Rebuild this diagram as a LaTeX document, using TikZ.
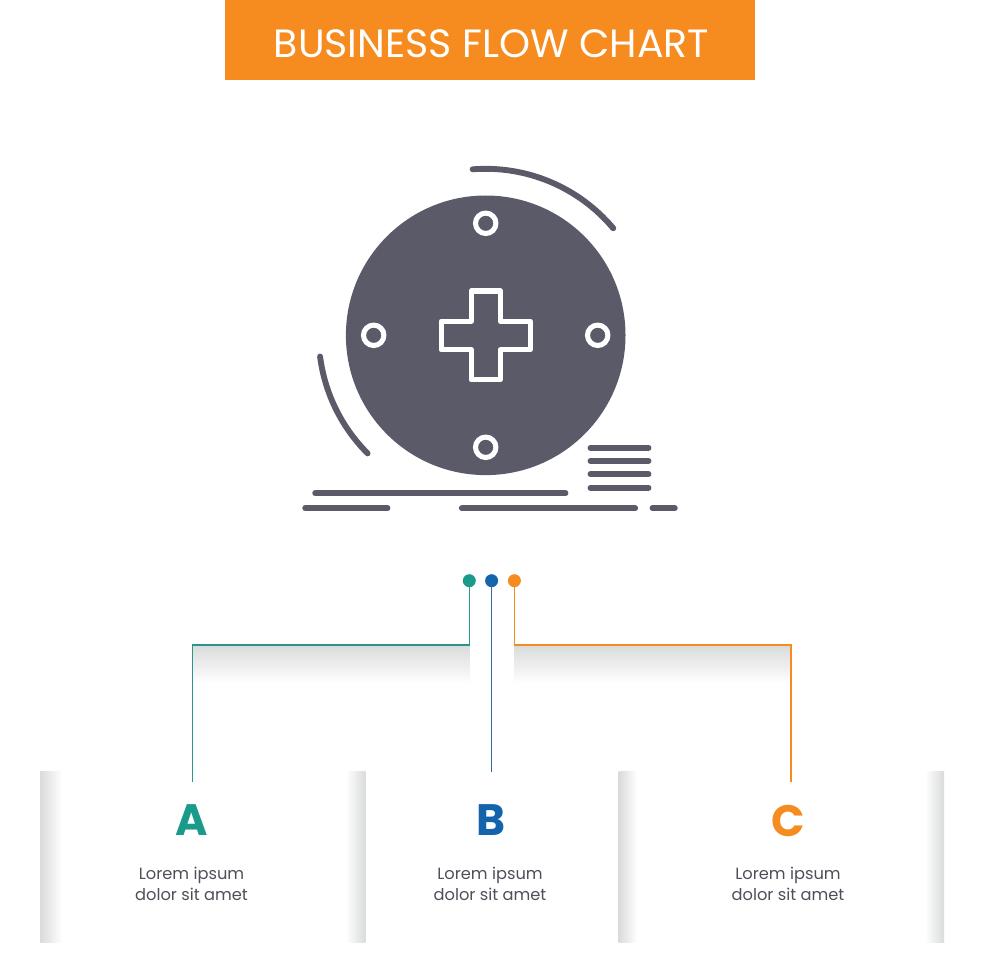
\documentclass[tikz,border=0pt]{standalone}
\usepackage{fontspec}
\setmainfont{Poppins}
\usepackage{xcolor}
\definecolor{bannerorange}{HTML}{F68B1F}
\definecolor{icongray}{HTML}{5B5A68}
\definecolor{textgray}{HTML}{4F4E59}
\definecolor{tealA}{HTML}{1A9A8A}
\definecolor{blueB}{HTML}{1464AC}
\definecolor{orangeC}{HTML}{F68B1F}
\definecolor{shadowgray}{HTML}{D9DADA}
\tikzset{
  iconline/.style={draw=icongray,line width=4.4pt,line cap=round},
  ring/.style={draw=white,line width=3.8pt},
  wire/.style={line width=1.2pt},
  dot/.style={circle,inner sep=0pt,minimum size=9.75pt},
  letter/.style={font=\fontsize{33}{33}\selectfont\bfseries},
  caption/.style={text=textgray,align=center,font=\fontsize{12.2}{15.2}\selectfont},
}

\begin{document}
\begin{tikzpicture}[x=0.75pt,y=0.75pt,yscale=-1,xscale=1]
\useasboundingbox (0,0) rectangle (980,980);

%Shape: Banner
\fill [bannerorange] (225,0) rectangle (755,80);
% Text Node
\node (title) [text=white,font=\fontsize{29.6}{29.6}\selectfont] at (491.5,43.5) {BUSINESS FLOW CHART};

%Shape: Circle
\coordinate (dial) at (485.7,335.3);
\fill [icongray] (dial) circle (139.8);
%Shape: Rings
\draw [ring] (485.7,223.3) circle (10.2);
\draw [ring] (373.7,335.3) circle (10.2);
\draw [ring] (597.7,335.3) circle (10.2);
\draw [ring] (485.7,447.3) circle (10.2);
%Shape: Cross
\draw [draw=white,line width=3.9pt,line join=round] (471.2,290.9) -- (500.3,290.9) -- (500.3,321.2) -- (530.1,321.2) -- (530.1,349.8) -- (500.3,349.8) -- (500.3,379.8) -- (471.2,379.8) -- (471.2,349.8) -- (441.2,349.8) -- (441.2,321.2) -- (471.2,321.2) -- cycle ;
%Arcs
\draw [iconline] (dial) ++(-94.5:166.5) arc (-94.5:-40:166.5);
\draw [iconline] (dial) ++(172.7:167) arc (172.7:135:167);
%Straight Lines
\foreach \y in {447.7,461,474.3,487.7} {
  \draw [iconline] (590.5,\y) -- (648.5,\y);
}
\draw [iconline] (315.2,493.3) -- (565.5,493.3);
\draw [iconline] (305.2,508.3) -- (387.5,508.3);
\draw [iconline] (461.8,508.3) -- (635.2,508.3);
\draw [iconline] (652.5,508.3) -- (674.8,508.3);

%Shape: Shadows
\shade [top color=shadowgray,bottom color=white] (192.5,645) rectangle (469.5,683);
\shade [top color=shadowgray,bottom color=white] (514.5,645) rectangle (791,683);
\shade [left color=shadowgray,right color=white] (40,771.5) rectangle (62,942.5);
\shade [left color=white,right color=shadowgray] (346,771.5) rectangle (365.5,942.5);
\shade [left color=shadowgray,right color=white] (618.5,771.5) rectangle (637,942.5);
\shade [left color=white,right color=shadowgray] (925,771.5) rectangle (944,942.5);

%Dots
\node (dotA) [dot,fill=tealA] at (469.3,580.7) {};
\node (dotB) [dot,fill=blueB] at (491.6,580.7) {};
\node (dotC) [dot,fill=orangeC] at (514.4,580.7) {};
\coordinate (elbowA1) at (469.3,645);
\coordinate (elbowA2) at (192.6,645);
\coordinate (endA) at (192.6,781.7);
\coordinate (endB) at (491.6,771.7);
\coordinate (elbowC1) at (514.4,645);
\coordinate (elbowC2) at (791,645);
\coordinate (endC) at (791,781.7);
%Connectors
\draw [wire,draw=tealA!85!gray] (dotA.center) -- (elbowA1) -- (elbowA2) -- (endA);
\draw [wire,draw=blueB!75!gray] (dotB.center) -- (endB);
\draw [wire,draw=orangeC] (dotC.center) -- (elbowC1) -- (elbowC2) -- (endC);

% Text Node
\node (letterA) [letter,text=tealA] at (192,820.5) {A};
\node (letterB) [letter,text=blueB] at (490.5,820.5) {B};
\node (letterC) [letter,text=orangeC] at (788.5,820.5) {C};
% Text Node
\node (textA) [caption] at (191.5,884) {Lorem ipsum\\dolor sit amet};
\node (textB) [caption] at (490,884) {Lorem ipsum\\dolor sit amet};
\node (textC) [caption] at (788,884) {Lorem ipsum\\dolor sit amet};

\end{tikzpicture}
\end{document}
